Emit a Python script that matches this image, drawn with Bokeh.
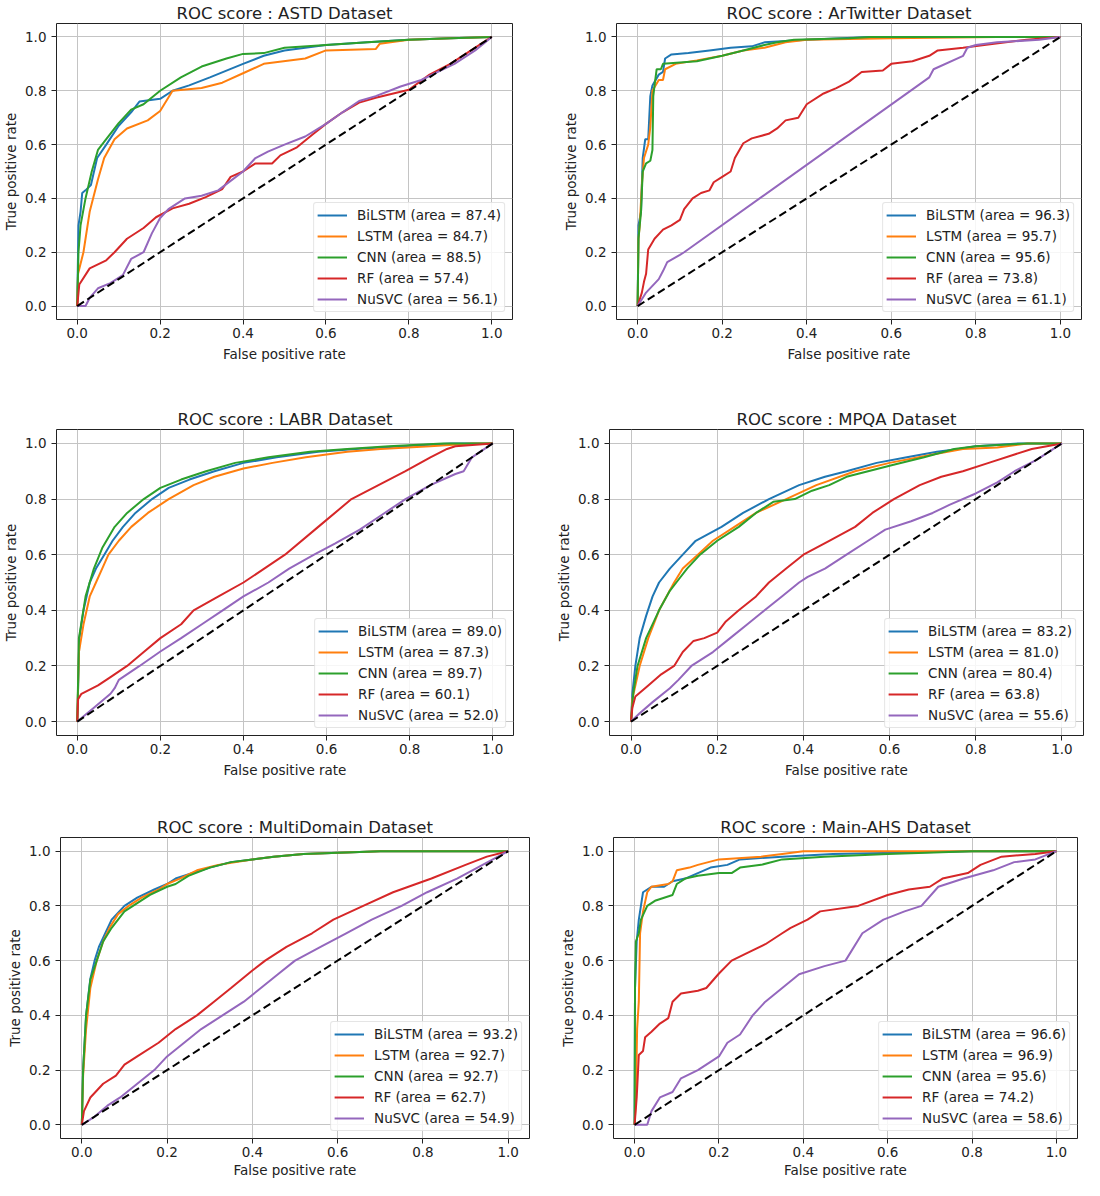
from bokeh.plotting import figure
from bokeh.layouts import column, row
from bokeh.models import Range1d, FixedTicker
from bokeh.embed import file_html
from bokeh.resources import INLINE

# ---------------- data ----------------
MODELS = ["BiLSTM", "LSTM", "CNN", "RF", "NuSVC"]
COLORS = ["#1f77b4", "#ff7f0e", "#2ca02c", "#d62728", "#9467bd"]
TICKS = [0.0, 0.2, 0.4, 0.6, 0.8, 1.0]
TICK_LABELS = ["0.0", "0.2", "0.4", "0.6", "0.8", "1.0"]
CHANCE_X = [0.0, 1.0]
CHANCE_Y = [0.0, 1.0]

# ASTD
ASTD_AUC = [87.4, 84.7, 88.5, 57.4, 56.1]
ASTD_BiLSTM_fpr = [0, 0.003, 0.008, 0.012, 0.02, 0.033, 0.048, 0.07, 0.1, 0.13, 0.15, 0.2, 0.23, 0.27, 0.32, 0.4, 0.45, 0.5, 0.6, 0.7, 0.8, 0.9, 1.0]
ASTD_BiLSTM_tpr = [0, 0.3, 0.35, 0.42, 0.43, 0.45, 0.55, 0.6, 0.67, 0.72, 0.76, 0.77, 0.80, 0.82, 0.85, 0.90, 0.93, 0.95, 0.97, 0.98, 0.99, 0.995, 1.0]
ASTD_LSTM_fpr = [0, 0.002, 0.015, 0.03, 0.05, 0.065, 0.09, 0.12, 0.17, 0.2, 0.23, 0.3, 0.35, 0.4, 0.45, 0.55, 0.6, 0.72, 0.73, 0.8, 0.9, 1.0]
ASTD_LSTM_tpr = [0, 0.12, 0.2, 0.35, 0.47, 0.55, 0.62, 0.66, 0.69, 0.725, 0.8, 0.81, 0.83, 0.865, 0.9, 0.92, 0.95, 0.955, 0.975, 0.99, 0.995, 1.0]
ASTD_CNN_fpr = [0, 0.003, 0.008, 0.02, 0.035, 0.05, 0.07, 0.1, 0.13, 0.16, 0.2, 0.25, 0.3, 0.36, 0.4, 0.45, 0.5, 0.6, 0.7, 0.8, 0.9, 1.0]
ASTD_CNN_tpr = [0, 0.2, 0.3, 0.4, 0.5, 0.58, 0.62, 0.68, 0.73, 0.75, 0.8, 0.85, 0.89, 0.92, 0.937, 0.94, 0.96, 0.97, 0.98, 0.99, 0.995, 1.0]
ASTD_RF_fpr = [0, 0.005, 0.03, 0.07, 0.09, 0.12, 0.16, 0.19, 0.23, 0.27, 0.31, 0.35, 0.37, 0.4, 0.43, 0.47, 0.49, 0.53, 0.57, 0.6, 0.64, 0.68, 0.72, 0.8, 0.85, 0.9, 1.0]
ASTD_RF_tpr = [0, 0.08, 0.14, 0.17, 0.2, 0.25, 0.29, 0.33, 0.363, 0.38, 0.405, 0.435, 0.48, 0.5, 0.53, 0.53, 0.56, 0.59, 0.64, 0.677, 0.72, 0.756, 0.774, 0.804, 0.86, 0.9, 1.0]
ASTD_NuSVC_fpr = [0, 0.02, 0.03, 0.05, 0.08, 0.11, 0.13, 0.16, 0.18, 0.2, 0.22, 0.26, 0.3, 0.34, 0.37, 0.4, 0.43, 0.46, 0.5, 0.55, 0.6, 0.64, 0.68, 0.72, 0.78, 0.83, 0.87, 0.91, 0.96, 1.0]
ASTD_NuSVC_tpr = [0, 0, 0.03, 0.066, 0.085, 0.115, 0.175, 0.2, 0.27, 0.327, 0.36, 0.4, 0.41, 0.43, 0.465, 0.5, 0.55, 0.574, 0.6, 0.63, 0.677, 0.72, 0.762, 0.78, 0.816, 0.84, 0.87, 0.9, 0.95, 1.0]

# ArTwitter
ART_AUC = [96.3, 95.7, 95.6, 73.8, 61.1]
ART_BiLSTM_fpr = [0, 0.002, 0.008, 0.012, 0.018, 0.025, 0.03, 0.035, 0.05, 0.06, 0.065, 0.08, 0.12, 0.17, 0.22, 0.27, 0.3, 0.4, 0.55, 1.0]
ART_BiLSTM_tpr = [0, 0.3, 0.35, 0.55, 0.62, 0.62, 0.78, 0.82, 0.86, 0.87, 0.92, 0.935, 0.94, 0.95, 0.96, 0.965, 0.98, 0.99, 1.0, 1.0]
ART_LSTM_fpr = [0, 0.002, 0.005, 0.01, 0.015, 0.025, 0.03, 0.035, 0.05, 0.06, 0.065, 0.09, 0.14, 0.2, 0.25, 0.3, 0.35, 0.4, 0.6, 0.85, 1.0]
ART_LSTM_tpr = [0, 0.25, 0.3, 0.45, 0.55, 0.6, 0.665, 0.8, 0.84, 0.84, 0.88, 0.9, 0.913, 0.93, 0.95, 0.96, 0.98, 0.99, 0.995, 1.0, 1.0]
ART_CNN_fpr = [0, 0.002, 0.008, 0.012, 0.02, 0.03, 0.035, 0.037, 0.04, 0.045, 0.055, 0.06, 0.1, 0.14, 0.2, 0.25, 0.3, 0.33, 0.37, 0.5, 0.55, 1.0]
ART_CNN_tpr = [0, 0.25, 0.35, 0.5, 0.53, 0.54, 0.58, 0.78, 0.82, 0.88, 0.88, 0.9, 0.905, 0.91, 0.93, 0.95, 0.97, 0.98, 0.99, 0.995, 1.0, 1.0]
ART_RF_fpr = [0, 0.01, 0.015, 0.02, 0.025, 0.04, 0.06, 0.08, 0.1, 0.11, 0.13, 0.15, 0.17, 0.18, 0.2, 0.22, 0.23, 0.25, 0.27, 0.31, 0.33, 0.35, 0.38, 0.4, 0.44, 0.47, 0.5, 0.53, 0.58, 0.6, 0.65, 0.69, 0.71, 0.77, 0.82, 0.92, 1.0]
ART_RF_tpr = [0, 0.05, 0.09, 0.12, 0.21, 0.25, 0.284, 0.3, 0.32, 0.36, 0.4, 0.42, 0.43, 0.46, 0.48, 0.5, 0.55, 0.605, 0.623, 0.64, 0.66, 0.69, 0.70, 0.75, 0.79, 0.81, 0.834, 0.87, 0.875, 0.9, 0.91, 0.93, 0.95, 0.96, 0.97, 0.99, 1.0]
ART_NuSVC_fpr = [0, 0.02, 0.05, 0.06, 0.07, 0.1, 0.11, 0.69, 0.7, 0.77, 0.78, 0.8, 0.85, 0.95, 1.0]
ART_NuSVC_tpr = [0, 0.05, 0.1, 0.13, 0.163, 0.19, 0.2, 0.85, 0.88, 0.93, 0.96, 0.97, 0.98, 0.99, 1.0]

# LABR
LABR_AUC = [89.0, 87.3, 89.7, 60.1, 52.0]
LABR_BiLSTM_fpr = [0, 0.005, 0.015, 0.03, 0.045, 0.065, 0.085, 0.11, 0.14, 0.18, 0.22, 0.27, 0.33, 0.4, 0.48, 0.58, 0.67, 0.78, 0.9, 1.0]
LABR_BiLSTM_tpr = [0, 0.3, 0.4, 0.5, 0.55, 0.6, 0.65, 0.7, 0.75, 0.8, 0.84, 0.87, 0.9, 0.93, 0.95, 0.97, 0.98, 0.99, 1.0, 1.0]
LABR_LSTM_fpr = [0, 0.004, 0.015, 0.03, 0.045, 0.06, 0.075, 0.1, 0.13, 0.17, 0.22, 0.28, 0.33, 0.4, 0.47, 0.55, 0.65, 0.73, 0.85, 0.95, 1.0]
LABR_LSTM_tpr = [0, 0.25, 0.35, 0.45, 0.5, 0.55, 0.6, 0.65, 0.7, 0.75, 0.8, 0.85, 0.88, 0.91, 0.93, 0.95, 0.97, 0.98, 0.99, 1.0, 1.0]
LABR_CNN_fpr = [0, 0.004, 0.02, 0.04, 0.06, 0.09, 0.12, 0.16, 0.2, 0.25, 0.31, 0.38, 0.46, 0.56, 0.65, 0.75, 0.88, 1.0]
LABR_CNN_tpr = [0, 0.3, 0.45, 0.55, 0.624, 0.7, 0.75, 0.8, 0.84, 0.87, 0.9, 0.93, 0.95, 0.97, 0.98, 0.99, 1.0, 1.0]
LABR_RF_fpr = [0, 0.002, 0.01, 0.05, 0.08, 0.12, 0.16, 0.2, 0.25, 0.28, 0.34, 0.4, 0.45, 0.5, 0.58, 0.66, 0.79, 0.85, 0.89, 0.91, 1.0]
LABR_RF_tpr = [0, 0.08, 0.1, 0.13, 0.16, 0.2, 0.25, 0.3, 0.35, 0.4, 0.45, 0.5, 0.55, 0.6, 0.7, 0.8, 0.9, 0.95, 0.98, 0.99, 1.0]
LABR_NuSVC_fpr = [0, 0.04, 0.08, 0.09, 0.1, 0.15, 0.2, 0.25, 0.3, 0.35, 0.4, 0.46, 0.51, 0.57, 0.62, 0.68, 0.73, 0.79, 0.85, 0.91, 0.93, 0.95, 1.0]
LABR_NuSVC_tpr = [0, 0.05, 0.1, 0.12, 0.15, 0.2, 0.252, 0.3, 0.35, 0.4, 0.45, 0.5, 0.55, 0.6, 0.64, 0.69, 0.74, 0.8, 0.85, 0.89, 0.9, 0.95, 1.0]

# MPQA
MPQA_AUC = [83.2, 81.0, 80.4, 63.8, 55.6]
MPQA_BiLSTM_fpr = [0, 0.003, 0.01, 0.02, 0.035, 0.05, 0.065, 0.09, 0.12, 0.15, 0.21, 0.26, 0.32, 0.39, 0.45, 0.5, 0.57, 0.64, 0.71, 0.76, 0.8, 0.9, 1.0]
MPQA_BiLSTM_tpr = [0, 0.1, 0.2, 0.3, 0.38, 0.45, 0.5, 0.55, 0.6, 0.65, 0.7, 0.75, 0.8, 0.85, 0.88, 0.9, 0.93, 0.95, 0.97, 0.98, 0.99, 1.0, 1.0]
MPQA_LSTM_fpr = [0, 0.003, 0.02, 0.04, 0.065, 0.1, 0.12, 0.155, 0.19, 0.24, 0.29, 0.36, 0.43, 0.52, 0.6, 0.7, 0.77, 0.85, 0.92, 1.0]
MPQA_LSTM_tpr = [0, 0.08, 0.2, 0.3, 0.4, 0.5, 0.55, 0.6, 0.65, 0.7, 0.75, 0.8, 0.85, 0.9, 0.93, 0.96, 0.98, 0.985, 1.0, 1.0]
MPQA_CNN_fpr = [0, 0.005, 0.015, 0.035, 0.065, 0.09, 0.105, 0.13, 0.16, 0.2, 0.25, 0.29, 0.33, 0.38, 0.42, 0.46, 0.5, 0.55, 0.6, 0.68, 0.75, 0.8, 0.92, 1.0]
MPQA_CNN_tpr = [0, 0.1, 0.2, 0.3, 0.4, 0.47, 0.5, 0.55, 0.6, 0.65, 0.7, 0.75, 0.79, 0.8, 0.83, 0.85, 0.88, 0.9, 0.92, 0.95, 0.98, 0.99, 1.0, 1.0]
MPQA_RF_fpr = [0, 0.003, 0.01, 0.04, 0.07, 0.1, 0.12, 0.145, 0.17, 0.2, 0.22, 0.25, 0.29, 0.32, 0.36, 0.4, 0.46, 0.52, 0.56, 0.61, 0.67, 0.72, 0.77, 0.83, 0.89, 0.93, 1.0]
MPQA_RF_tpr = [0, 0.05, 0.09, 0.13, 0.17, 0.2, 0.25, 0.29, 0.3, 0.32, 0.36, 0.4, 0.45, 0.5, 0.55, 0.6, 0.65, 0.7, 0.75, 0.8, 0.85, 0.88, 0.9, 0.93, 0.96, 0.98, 1.0]
MPQA_NuSVC_fpr = [0, 0.02, 0.05, 0.09, 0.11, 0.14, 0.19, 0.23, 0.27, 0.31, 0.35, 0.39, 0.41, 0.45, 0.5, 0.55, 0.59, 0.65, 0.7, 0.74, 0.8, 0.85, 0.89, 0.94, 1.0]
MPQA_NuSVC_tpr = [0, 0.03, 0.07, 0.12, 0.15, 0.2, 0.25, 0.3, 0.35, 0.4, 0.45, 0.5, 0.52, 0.55, 0.6, 0.65, 0.69, 0.72, 0.75, 0.78, 0.82, 0.86, 0.9, 0.94, 1.0]

# MultiDomain
MD_AUC = [93.2, 92.7, 92.7, 62.7, 54.9]
MD_BiLSTM_fpr = [0, 0.003, 0.01, 0.02, 0.03, 0.04, 0.055, 0.07, 0.1, 0.13, 0.17, 0.2, 0.22, 0.26, 0.3, 0.35, 0.4, 0.45, 0.52, 0.7, 1.0]
MD_BiLSTM_tpr = [0, 0.2, 0.4, 0.534, 0.6, 0.65, 0.7, 0.75, 0.8, 0.83, 0.86, 0.88, 0.9, 0.92, 0.94, 0.96, 0.97, 0.98, 0.99, 1.0, 1.0]
MD_LSTM_fpr = [0, 0.003, 0.01, 0.02, 0.035, 0.05, 0.065, 0.085, 0.11, 0.14, 0.18, 0.2, 0.23, 0.27, 0.32, 0.4, 0.45, 0.52, 0.7, 1.0]
MD_LSTM_tpr = [0, 0.18, 0.35, 0.5, 0.6, 0.67, 0.72, 0.77, 0.8, 0.83, 0.86, 0.88, 0.9, 0.93, 0.95, 0.97, 0.98, 0.99, 1.0, 1.0]
MD_CNN_fpr = [0, 0.003, 0.01, 0.02, 0.035, 0.05, 0.07, 0.1, 0.13, 0.16, 0.2, 0.22, 0.25, 0.3, 0.35, 0.4, 0.45, 0.52, 0.7, 1.0]
MD_CNN_tpr = [0, 0.2, 0.4, 0.53, 0.6, 0.67, 0.72, 0.78, 0.81, 0.84, 0.87, 0.88, 0.91, 0.94, 0.96, 0.97, 0.98, 0.99, 1.0, 1.0]
MD_RF_fpr = [0, 0.005, 0.02, 0.05, 0.08, 0.1, 0.13, 0.18, 0.22, 0.27, 0.31, 0.35, 0.4, 0.43, 0.48, 0.54, 0.59, 0.66, 0.73, 0.82, 0.9, 0.95, 1.0]
MD_RF_tpr = [0, 0.05, 0.1, 0.15, 0.18, 0.22, 0.25, 0.3, 0.35, 0.4, 0.45, 0.5, 0.564, 0.6, 0.65, 0.7, 0.75, 0.8, 0.85, 0.9, 0.95, 0.98, 1.0]
MD_NuSVC_fpr = [0, 0.03, 0.06, 0.09, 0.13, 0.17, 0.2, 0.24, 0.28, 0.33, 0.38, 0.42, 0.46, 0.5, 0.56, 0.62, 0.68, 0.75, 0.81, 0.88, 0.94, 1.0]
MD_NuSVC_tpr = [0, 0.03, 0.07, 0.1, 0.15, 0.2, 0.25, 0.3, 0.35, 0.4, 0.45, 0.5, 0.55, 0.6, 0.65, 0.7, 0.75, 0.8, 0.85, 0.9, 0.95, 1.0]

# Main-AHS
AHS_AUC = [96.6, 96.9, 95.6, 74.2, 58.6]
AHS_BiLSTM_fpr = [0, 0.001, 0.005, 0.01, 0.015, 0.02, 0.04, 0.07, 0.09, 0.12, 0.15, 0.18, 0.22, 0.25, 0.35, 0.47, 0.8, 1.0]
AHS_BiLSTM_tpr = [0, 0.5, 0.67, 0.75, 0.8, 0.85, 0.87, 0.87, 0.89, 0.9, 0.92, 0.94, 0.95, 0.97, 0.98, 0.99, 1.0, 1.0]
AHS_LSTM_fpr = [0, 0.003, 0.006, 0.01, 0.013, 0.02, 0.03, 0.04, 0.08, 0.09, 0.1, 0.13, 0.15, 0.2, 0.3, 0.35, 0.4, 1.0]
AHS_LSTM_tpr = [0, 0.1, 0.35, 0.45, 0.7, 0.78, 0.85, 0.87, 0.88, 0.89, 0.93, 0.94, 0.95, 0.97, 0.98, 0.99, 1.0, 1.0]
AHS_CNN_fpr = [0, 0.001, 0.003, 0.01, 0.015, 0.03, 0.05, 0.07, 0.09, 0.1, 0.12, 0.15, 0.2, 0.23, 0.25, 0.3, 0.35, 0.45, 0.6, 0.8, 1.0]
AHS_CNN_tpr = [0, 0.5, 0.67, 0.7, 0.75, 0.8, 0.82, 0.83, 0.84, 0.88, 0.9, 0.91, 0.92, 0.92, 0.94, 0.95, 0.97, 0.98, 0.99, 1.0, 1.0]
AHS_RF_fpr = [0, 0.005, 0.01, 0.02, 0.025, 0.04, 0.06, 0.08, 0.09, 0.11, 0.15, 0.17, 0.2, 0.23, 0.27, 0.31, 0.35, 0.37, 0.41, 0.44, 0.53, 0.6, 0.65, 0.7, 0.73, 0.79, 0.82, 0.87, 0.95, 1.0]
AHS_RF_tpr = [0, 0.1, 0.255, 0.27, 0.32, 0.34, 0.37, 0.39, 0.45, 0.48, 0.49, 0.5, 0.553, 0.6, 0.63, 0.66, 0.7, 0.72, 0.75, 0.78, 0.8, 0.84, 0.86, 0.87, 0.9, 0.92, 0.95, 0.98, 0.99, 1.0]
AHS_NuSVC_fpr = [0, 0.03, 0.04, 0.06, 0.09, 0.11, 0.15, 0.18, 0.2, 0.22, 0.25, 0.28, 0.31, 0.35, 0.39, 0.45, 0.5, 0.54, 0.59, 0.64, 0.68, 0.72, 0.78, 0.85, 0.9, 0.95, 1.0]
AHS_NuSVC_tpr = [0, 0, 0.05, 0.1, 0.12, 0.17, 0.2, 0.23, 0.25, 0.3, 0.33, 0.4, 0.45, 0.5, 0.55, 0.58, 0.6, 0.7, 0.75, 0.78, 0.8, 0.87, 0.9, 0.93, 0.96, 0.97, 1.0]

PANEL_DATA = [
    ("ASTD", ASTD_AUC, [(ASTD_BiLSTM_fpr, ASTD_BiLSTM_tpr), (ASTD_LSTM_fpr, ASTD_LSTM_tpr), (ASTD_CNN_fpr, ASTD_CNN_tpr), (ASTD_RF_fpr, ASTD_RF_tpr), (ASTD_NuSVC_fpr, ASTD_NuSVC_tpr)]),
    ("ArTwitter", ART_AUC, [(ART_BiLSTM_fpr, ART_BiLSTM_tpr), (ART_LSTM_fpr, ART_LSTM_tpr), (ART_CNN_fpr, ART_CNN_tpr), (ART_RF_fpr, ART_RF_tpr), (ART_NuSVC_fpr, ART_NuSVC_tpr)]),
    ("LABR", LABR_AUC, [(LABR_BiLSTM_fpr, LABR_BiLSTM_tpr), (LABR_LSTM_fpr, LABR_LSTM_tpr), (LABR_CNN_fpr, LABR_CNN_tpr), (LABR_RF_fpr, LABR_RF_tpr), (LABR_NuSVC_fpr, LABR_NuSVC_tpr)]),
    ("MPQA", MPQA_AUC, [(MPQA_BiLSTM_fpr, MPQA_BiLSTM_tpr), (MPQA_LSTM_fpr, MPQA_LSTM_tpr), (MPQA_CNN_fpr, MPQA_CNN_tpr), (MPQA_RF_fpr, MPQA_RF_tpr), (MPQA_NuSVC_fpr, MPQA_NuSVC_tpr)]),
    ("MultiDomain", MD_AUC, [(MD_BiLSTM_fpr, MD_BiLSTM_tpr), (MD_LSTM_fpr, MD_LSTM_tpr), (MD_CNN_fpr, MD_CNN_tpr), (MD_RF_fpr, MD_RF_tpr), (MD_NuSVC_fpr, MD_NuSVC_tpr)]),
    ("Main-AHS", AHS_AUC, [(AHS_BiLSTM_fpr, AHS_BiLSTM_tpr), (AHS_LSTM_fpr, AHS_LSTM_tpr), (AHS_CNN_fpr, AHS_CNN_tpr), (AHS_RF_fpr, AHS_RF_tpr), (AHS_NuSVC_fpr, AHS_NuSVC_tpr)]),
]

# ---------------- layout (figure width, height, borders L, R, T, B, x-label standoff) ----------------
GEOM = [
    (542, 388, 49, 30, 16, 69, 5),
    (542, 388, 74, 3, 17, 67, 5),
    (542, 406, 52, 29, 41, 53, 5),
    (542, 406, 67, 1, 36, 59, 5),
    (542, 386, 60, 13, 43, 41, 2),
    (542, 386, 71, 7, 43, 41, 2),
]

FONT = "DejaVu Sans"
TEXT = "#222222"


def make_panel(name, aucs, curves, geom):
    w, h, bl, br, bt, bb, xls = geom
    p = figure(width=w, height=h, x_range=Range1d(-0.05, 1.05), y_range=Range1d(-0.05, 1.05),
               output_backend="svg", toolbar_location=None,
               min_border_left=bl, min_border_right=br, min_border_top=bt, min_border_bottom=bb,
               title="ROC score : %s Dataset" % name)
    p.title.align = "center"
    p.title.text_font = FONT
    p.title.text_font_size = "16.5px"
    p.title.text_font_style = "normal"
    p.title.text_color = TEXT
    p.title.standoff = 2

    p.outline_line_color = "#222222"
    p.outline_line_width = 1
    p.outline_line_alpha = 1.0
    p.background_fill_color = "white"
    p.border_fill_color = "white"

    overrides = {t: lab for t, lab in zip(TICKS, TICK_LABELS)}
    for ax in (p.xaxis[0], p.yaxis[0]):
        ax.ticker = FixedTicker(ticks=TICKS)
        ax.major_label_overrides = overrides
        ax.axis_line_color = None
        ax.major_tick_line_color = "#222222"
        ax.major_tick_out = 5
        ax.major_tick_in = 0
        ax.minor_tick_line_color = None
        ax.major_label_text_font = FONT
        ax.major_label_text_font_size = "13.5px"
        ax.major_label_text_color = TEXT
        ax.axis_label_text_font = FONT
        ax.axis_label_text_font_size = "13.5px"
        ax.axis_label_text_font_style = "normal"
        ax.axis_label_text_color = TEXT
    p.xaxis.major_label_standoff = 3
    p.xaxis.axis_label_standoff = xls
    p.yaxis.major_label_standoff = 5
    p.yaxis.axis_label_standoff = 3
    p.xaxis.axis_label = "False positive rate"
    p.yaxis.axis_label = "True positive rate"

    p.grid.grid_line_color = "#c4c4c4"
    p.grid.grid_line_width = 1

    for (fpr, tpr), model, color, auc in zip(curves, MODELS, COLORS, aucs):
        p.line(fpr, tpr, line_color=color, line_width=2,
               legend_label="%s (area = %.1f)" % (model, auc))
    p.line(CHANCE_X, CHANCE_Y, line_color="black", line_width=2, line_dash="8 4")

    lg = p.legend[0]
    lg.location = "bottom_right"
    lg.margin = 7
    lg.padding = 3
    lg.spacing = 3
    lg.label_height = 18
    lg.glyph_height = 18
    lg.glyph_width = 30
    lg.label_standoff = 10
    lg.label_text_font = FONT
    lg.label_text_font_size = "13.5px"
    lg.label_text_color = TEXT
    lg.border_line_color = "#cccccc"
    lg.border_line_width = 1
    lg.background_fill_color = "white"
    lg.background_fill_alpha = 0.85
    if "border_radius" in lg.properties():
        lg.border_radius = 3
    return p


figs = [make_panel(n, a, c, g) for (n, a, c), g in zip(PANEL_DATA, GEOM)]
layout = column(row(figs[0], figs[1]), row(figs[2], figs[3]), row(figs[4], figs[5]))

open("out.html", "w").write(file_html(layout, INLINE))
